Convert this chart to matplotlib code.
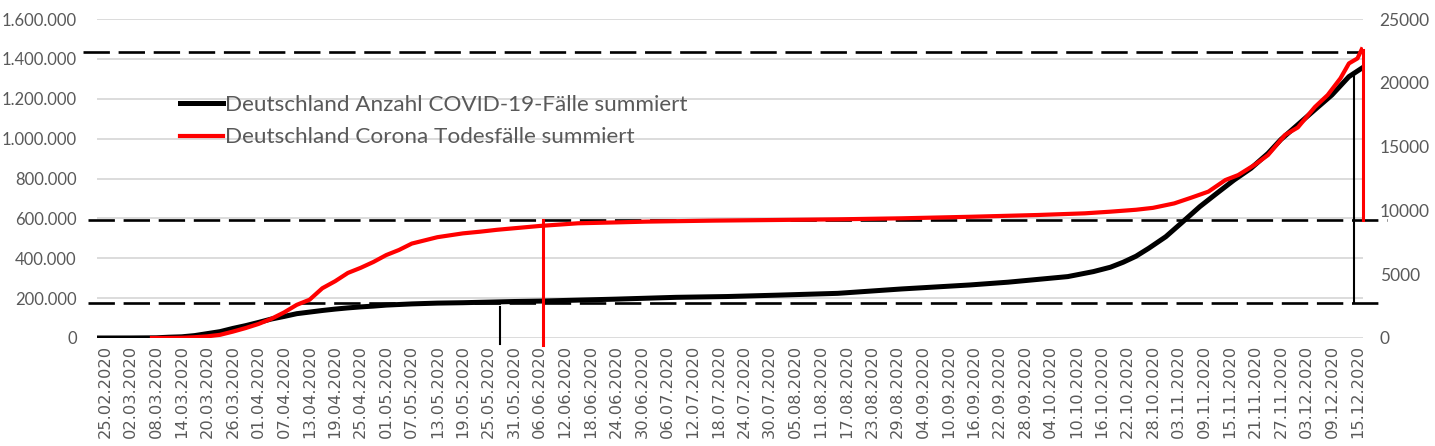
import matplotlib
matplotlib.use("Agg")
import matplotlib.pyplot as plt
import matplotlib.dates as mdates
from matplotlib.ticker import FuncFormatter, FixedLocator
import pandas as pd
import numpy as np

# ---- data ----
start_date = "2020-02-25"
case_days = [-2, 0, 6, 12, 15, 18, 21, 24, 27, 30, 33, 36, 39, 42, 45, 48, 51, 54, 57, 60,
             63, 66, 69, 72, 78, 84, 90, 96, 102, 111, 120, 134, 146, 158, 172, 187, 203,
             212, 219, 226, 232, 236, 239, 242, 245, 249, 253, 257, 261, 265, 269, 273,
             276, 280, 284, 288, 292, 295]
cases = [0, 16, 200, 1000, 4000, 6000, 12000, 22000, 32000, 48000, 62000, 78000, 95000,
         108000, 122000, 130000, 138000, 145000, 151000, 156000, 160000, 165000, 168000,
         171000, 175000, 177000, 180000, 183000, 185000, 190000, 195000, 204000, 208000,
         215000, 224000, 246000, 266000, 280000, 294000, 308000, 333000, 355000, 380000,
         410000, 450000, 508000, 583000, 659000, 726000, 792000, 851000, 926000, 995000,
         1070000, 1145000, 1219000, 1311000, 1353000]

death_days = [11, 15, 18, 21, 24, 27, 30, 33, 36, 39, 42, 45, 48, 51, 54, 57, 60, 63, 66,
              69, 72, 75, 78, 81, 84, 88, 92, 96, 102, 111, 120, 127, 143, 158, 172, 187,
              203, 219, 230, 236, 242, 246, 251, 255, 259, 263, 266, 270, 273, 277, 280,
              284, 287, 290, 292, 294, 295]
deaths = [0, 5, 15, 60, 130, 250, 500, 780, 1100, 1500, 2000, 2600, 3000, 3900, 4450, 5100,
          5500, 5960, 6500, 6900, 7400, 7650, 7900, 8050, 8200, 8330, 8480, 8600, 8780, 8990,
          9060, 9120, 9200, 9250, 9300, 9380, 9500, 9640, 9770, 9900, 10050, 10200, 10550,
          11000, 11470, 12380, 12770, 13600, 14340, 15910, 16500, 18100, 19040, 20350,
          21520, 21910, 22620]

label_cases = "Deutschland Anzahl COVID-19-Fälle summiert"
label_deaths = "Deutschland Corona Todesfälle summiert"

# reference lines (left-axis units) and vertical markers
hlines_left = [1436000, 590000, 174000]
vline_black_1 = (92.7, -28000, 155000)
vline_red_1 = (102.8, -35000, 590000)
vline_black_2 = (293.2, 177000, 1314000)
vline_red_2 = (295.4, 590000, 1444000)

left_ticks = [0, 200000, 400000, 600000, 800000, 1000000, 1200000, 1400000, 1600000]
right_ticks = [0, 5000, 10000, 15000, 20000, 25000]

# ---- figure ----
base = pd.Timestamp(start_date)
def d(days):
    return mdates.date2num(base + pd.to_timedelta(np.asarray(days, dtype=float), unit="D"))

fig = plt.figure(figsize=(14.35, 4.46), dpi=100)
W, H = 1435, 446
L, R, T, B = 97, 1363, 19, 338
ax = fig.add_axes([L / W, 1 - B / H, (R - L) / W, (B - T) / H])
ax2 = ax.twinx()

grey_txt = "#595959"
ax.set_ylim(0, 1600000)
ax2.set_ylim(0, 25000)
ax.set_xlim(d(-1.9)[()], d(295.3)[()])

ax.yaxis.set_major_locator(FixedLocator(left_ticks))
ax2.yaxis.set_major_locator(FixedLocator(right_ticks))
ax.yaxis.set_major_formatter(FuncFormatter(lambda v, p: f"{int(v):,}".replace(",", ".")))
ax2.yaxis.set_major_formatter(FuncFormatter(lambda v, p: f"{int(v)}"))

ax.grid(axis="y", color="#d9d9d9", lw=1.3)
ax.set_axisbelow(True)
for a in (ax, ax2):
    for s in a.spines.values():
        s.set_visible(False)
    a.tick_params(length=0, colors=grey_txt)
for t in ax.get_yticklabels():
    t.set_fontfamily("Lato"); t.set_fontsize(12)
for t in ax2.get_yticklabels():
    t.set_fontfamily("Lato"); t.set_fontsize(12.5)
ax.tick_params(axis="y", pad=14.5)
ax2.tick_params(axis="y", pad=12)

tick_dates = pd.date_range(start_date, "2020-12-15", freq="6D")
ax.set_xticks(mdates.date2num(tick_dates))
ax.set_xticklabels([t.strftime("%d.%m.%Y") for t in tick_dates], rotation=90,
                   fontsize=11.7, color=grey_txt, family="DejaVu Sans")
ax.tick_params(axis="x", pad=5)

# dashed horizontal lines
dash = (10, 3.3)
for yv, x0, x1 in zip(hlines_left, [-0.011, -0.007, -0.007], [1.0, 1.019, 1.012]):
    ax.plot([x0, x1], [yv, yv], transform=ax.get_yaxis_transform(), color="black",
            lw=1.9, dashes=dash, clip_on=False, zorder=3)

# curves
l1, = ax.plot(d(case_days), cases, color="black", lw=3.6, solid_joinstyle="round", zorder=4)
l2, = ax2.plot(d(death_days), deaths, color="#ff0000", lw=3.0, solid_joinstyle="round", zorder=4)

# vertical markers
for (xv, y0, y1), c, w in [(vline_black_1, "black", 1.5), (vline_red_1, "#ff0000", 2.2),
                           (vline_black_2, "black", 1.5), (vline_red_2, "#ff0000", 2.2)]:
    ax.plot([d(xv)[()], d(xv)[()]], [y0, y1], color=c, lw=w, clip_on=False, zorder=5)

leg = ax2.legend([l1, l2], [label_cases, label_deaths], loc="upper left",
                 bbox_to_anchor=((180 - L) / (R - L), (338 - 95) / (B - T)),
                 frameon=False, handlelength=1.9, handletextpad=0.12, labelspacing=0.55,
                 prop={"family": "Lato", "size": 16.2}, borderaxespad=0, borderpad=0)
for t in leg.get_texts():
    t.set_color(grey_txt)

fig.savefig("out.png", dpi=100)
